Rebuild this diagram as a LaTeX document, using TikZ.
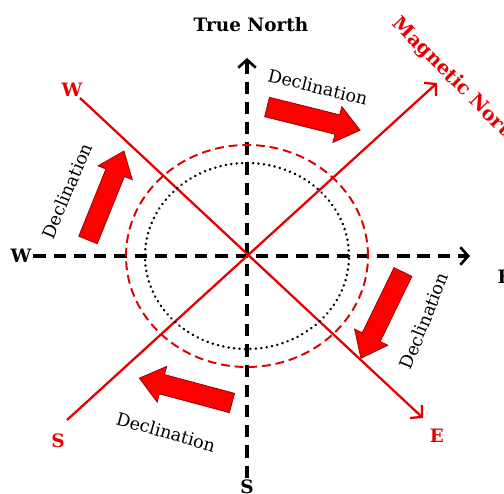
\documentclass[tikz,border=0pt]{standalone}
\usepackage{fontspec}
\setmainfont{DejaVu Serif}
\usetikzlibrary{arrows.meta}

\begin{document}
\begin{tikzpicture}[
    axis/.style={line width=1.8pt, dash pattern=on 7pt off 4.5pt, -{Straight Barb[length=4.5pt,width=10pt,line width=1.5pt]}},
    magline/.style={red!90!black, line width=1.3pt},
    magarrow/.style={magline, -{Straight Barb[length=4.5pt,width=10pt,line width=1.3pt]}},
    truelabel/.style={font=\bfseries\fontsize{10.5pt}{12pt}\selectfont, inner sep=1pt},
    maglabel/.style={truelabel, text=red!90!black},
    decl/.style={font=\fontsize{10pt}{12pt}\selectfont, inner sep=1pt},
    arrowfill/.style={fill=red, draw=red!55!black, line width=0.4pt},
    fatarrow/.pic={\draw[arrowfill] (0,-0.2) -- (1.45,-0.2) -- (1.45,-0.37) -- (1.92,0) -- (1.45,0.37) -- (1.45,0.2) -- (0,0.2) -- cycle;}
]
\useasboundingbox (-4.94,-4.76) rectangle (5.14,5.12);

\coordinate (c) at (0,0);

% true axes
\node[truelabel] (trueN) at (0.08,4.62) {True North};
\node[truelabel] (lblW) at (-4.52,0) {W};
\node[truelabel, anchor=west] (lblE) at (4.97,-0.42) {E};
\node[truelabel] (lblS) at (0,-4.62) {S};
\coordinate (tipN) at (0,3.96);
\coordinate (tipE) at (4.46,0);
\draw[axis] (lblS.north) -- (tipN);
\draw[axis] (lblW.east) -- (tipE);

% magnetic axes
\node[maglabel] (magW) at (-3.5,3.32) {W};
\node[maglabel] (magS) at (-3.78,-3.7) {S};
\node[maglabel] (magE) at (3.8,-3.6) {E};
\node[maglabel, font=\bfseries\fontsize{11pt}{13pt}\selectfont, rotate=-45, anchor=west, inner sep=0pt] (magN) at (2.96,4.7) {Magnetic North};
\coordinate (startS) at (-3.6,-3.28);
\coordinate (tipMN) at (3.8,3.46);
\coordinate (startW) at (-3.34,3.16);
\coordinate (tipME) at (3.52,-3.24);
\draw[magarrow] (startS) -- (tipMN);
\draw[magarrow] (startW) -- (tipME);

% circles
\draw[red!85!black, line width=1.1pt, dash pattern=on 5pt off 2.8pt] (c) ellipse [x radius=2.42, y radius=2.22];
\draw[black, line width=1.5pt, dash pattern=on 0.1pt off 3pt, line cap=round] (c) ellipse [x radius=2.04, y radius=1.86];

% declination arrows
\pic[rotate=-14] at (0.4,2.98) {fatarrow};
\pic[rotate=68] at (-3.18,0.32) {fatarrow};
\pic[rotate=-116] at (3.12,-0.32) {fatarrow};
\pic[rotate=165] at (-0.3,-2.94) {fatarrow};

\node[decl, rotate=-14] (decl1) at (1.42,3.38) {Declination};
\node[decl, rotate=67] (decl2) at (-3.6,1.3) {Declination};
\node[decl, rotate=68] (decl3) at (3.54,-1.3) {Declination};
\node[decl, rotate=-16] (decl4) at (-1.62,-3.52) {Declination};

\end{tikzpicture}
\end{document}
